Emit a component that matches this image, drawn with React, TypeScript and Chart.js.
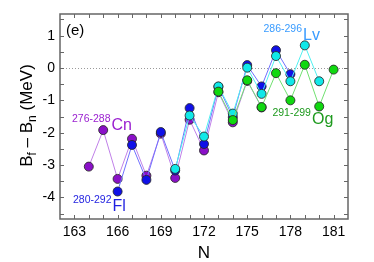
import { useEffect, useRef } from "react";
import { Chart, registerables } from "chart.js";

Chart.register(...registerables);

const FONT = "'Liberation Sans', Arial, Helvetica, sans-serif";

// Neutron numbers and B_f - B_n (MeV) values
const N_CN = [164, 165, 166, 167, 168, 169, 170, 171, 172, 173, 174, 175, 176];
const CN = [-3.05, -1.92, -3.43, -2.19, -3.33, -2.03, -3.40, -1.60, -2.55, -0.75, -1.68, -0.40, -1.22];

const N_FL = [166, 167, 168, 169, 170, 171, 172, 173, 174, 175, 176, 177, 178];
const FL = [-3.82, -2.38, -3.46, -1.98, -3.17, -1.24, -2.35, -0.58, -1.52, 0.09, -0.57, 0.55, -0.19];

const N_LV = [170, 171, 172, 173, 174, 175, 176, 177, 178, 179, 180];
const LV = [-3.12, -1.47, -2.12, -0.57, -1.41, 0.01, -0.80, 0.37, -0.41, 0.70, -0.41];

const N_OG = [173, 174, 175, 176, 177, 178, 179, 180, 181];
const OG = [-0.73, -1.61, -0.38, -1.21, -0.16, -1.00, 0.10, -1.19, -0.05];

const X_TICKS = [163, 166, 169, 172, 175, 178, 181];
const Y_TICKS = [-4, -3, -2, -1, 0, 1];

// Isotope-chain labels: range text, element, anchor in data units, colour
const LABEL_RANGE = ["276-288", "280-292", "286-296", "291-299"];
const LABEL_ELEM = ["Cn", "Fl", "Lv", "Og"];
const LABEL_X = [162.83, 162.9, 176.13, 176.75];
const LABEL_Y = [-1.91, -4.42, 0.88, -1.72];
const LABEL_COLOR = ["#9a1fd0", "#1f1fe0", "#3a9cff", "#1e9a1e"];

const pts = (xs: number[], ys: number[]) => xs.map((x, i) => ({ x, y: ys[i] }));

const overlay = {
  id: "overlay",
  beforeDatasetsDraw(chart: any) {
    const { ctx, chartArea: a, scales } = chart;
    const y0 = Math.round(scales.y.getPixelForValue(0)) + 0.5;
    ctx.save();
    ctx.strokeStyle = "#9a9a9a";
    ctx.lineWidth = 1;
    ctx.setLineDash([1, 2]);
    ctx.beginPath();
    ctx.moveTo(a.left, y0);
    ctx.lineTo(a.right, y0);
    ctx.stroke();
    ctx.restore();
  },
  afterDraw(chart: any) {
    const { ctx, chartArea: a, scales } = chart;
    const xs = scales.x;
    const ys = scales.y;
    ctx.save();
    // frame
    ctx.strokeStyle = "#666";
    ctx.lineWidth = 1.5;
    ctx.strokeRect(a.left, a.top, a.right - a.left, a.bottom - a.top);
    // inward ticks
    ctx.lineWidth = 1;
    ctx.beginPath();
    for (let n = Math.ceil(xs.min) + 1; n < xs.max; n++) {
      const px = Math.round(xs.getPixelForValue(n)) + 0.5;
      ctx.moveTo(px, a.bottom);
      ctx.lineTo(px, a.bottom - 4);
      ctx.moveTo(px, a.top);
      ctx.lineTo(px, a.top + 4);
    }
    for (let v = -4.5; v <= 1.5; v += 0.5) {
      const py = Math.round(ys.getPixelForValue(v)) + 0.5;
      ctx.moveTo(a.left, py);
      ctx.lineTo(a.left + 4, py);
      ctx.moveTo(a.right, py);
      ctx.lineTo(a.right - 4, py);
    }
    ctx.stroke();

    // panel label
    ctx.fillStyle = "#000";
    ctx.font = `15px ${FONT}`;
    ctx.textBaseline = "alphabetic";
    ctx.textAlign = "left";
    ctx.fillText("(e)", a.left + 6, a.top + 21);

    // chain labels
    for (let i = 0; i < LABEL_ELEM.length; i++) {
      const lx = xs.getPixelForValue(LABEL_X[i]);
      const ly = ys.getPixelForValue(LABEL_Y[i]);
      ctx.fillStyle = LABEL_COLOR[i];
      ctx.font = `10.5px ${FONT}`;
      ctx.fillText(LABEL_RANGE[i], lx, ly - 8);
      const w = ctx.measureText(LABEL_RANGE[i]).width;
      ctx.font = `16px ${FONT}`;
      ctx.fillText(LABEL_ELEM[i], lx + w + 1, ly);
    }

    // x title
    ctx.fillStyle = "#000";
    ctx.font = `17px ${FONT}`;
    ctx.textAlign = "center";
    ctx.fillText("N", (a.left + a.right) / 2, 258);

    // y title with subscripts
    const parts: [string, number, number][] = [
      ["B", 17, 0],
      ["f", 12, 4],
      [" \u2013 ", 17, 0],
      ["B", 17, 0],
      ["n", 12, 4],
      [" (MeV)", 17, 0],
    ];
    let total = 0;
    const widths = parts.map(([t, s]) => {
      ctx.font = `${s}px ${FONT}`;
      const w = ctx.measureText(t).width;
      total += w;
      return w;
    });
    ctx.translate(32, (a.top + a.bottom) / 2 - 1);
    ctx.rotate(-Math.PI / 2);
    ctx.textAlign = "left";
    let cx = -total / 2;
    parts.forEach(([t, s, dy], i) => {
      ctx.font = `${s}px ${FONT}`;
      ctx.fillText(t, cx, dy);
      cx += widths[i];
    });
    ctx.restore();
  },
};

function ds(label: string, xs: number[], ys: number[], fill: string, line: string) {
  return {
    label,
    data: pts(xs, ys),
    showLine: true,
    borderColor: line,
    borderWidth: 1,
    backgroundColor: fill,
    pointBackgroundColor: fill,
    pointBorderColor: "rgba(40,40,40,0.85)",
    pointBorderWidth: 1,
    pointRadius: 4.5,
    pointHoverRadius: 4.5,
  };
}

export default function App() {
  const ref = useRef<HTMLCanvasElement | null>(null);
  useEffect(() => {
    if (!ref.current) return;
    const chart = new Chart(ref.current, {
      type: "scatter",
      data: {
        datasets: [
          ds("Og", N_OG, OG, "#10d810", "#70e070"),
          ds("Lv", N_LV, LV, "#10e8e8", "#50f0f0"),
          ds("Fl", N_FL, FL, "#1010e8", "#7070ff"),
          ds("Cn", N_CN, CN, "#8a10c8", "#c080e8"),
        ],
      },
      options: {
        animation: false,
        responsive: false,
        devicePixelRatio: 1,
        layout: { padding: { left: 0, right: 26, top: 14, bottom: 0 } },
        plugins: { legend: { display: false }, tooltip: { enabled: false } },
        scales: {
          x: {
            type: "linear",
            min: 162,
            max: 182,
            border: { display: false },
            grid: { display: false, drawTicks: false },
            afterBuildTicks: (s: any) => {
              s.ticks = X_TICKS.map((v) => ({ value: v }));
            },
            afterFit: (s: any) => {
              s.height = 43;
            },
            ticks: {
              padding: 5,
              color: "#000",
              font: { family: FONT, size: 14 },
              maxRotation: 0,
              autoSkip: false,
              callback: (v: any) => String(v),
            },
          },
          y: {
            type: "linear",
            min: -4.67,
            max: 1.67,
            border: { display: false },
            grid: { display: false, drawTicks: false },
            afterBuildTicks: (s: any) => {
              s.ticks = Y_TICKS.map((v) => ({ value: v }));
            },
            afterFit: (s: any) => {
              s.width = 60;
            },
            ticks: {
              padding: 5,
              color: "#000",
              font: { family: FONT, size: 14 },
              autoSkip: false,
              callback: (v: any) => String(v),
            },
          },
        },
      },
      plugins: [overlay],
    });
    return () => chart.destroy();
  }, []);
  return (
    <div style={{ position: "absolute", left: 0, top: 0, width: 374, height: 262, background: "#fff" }}>
      <canvas ref={ref} width={374} height={262} />
    </div>
  );
}
